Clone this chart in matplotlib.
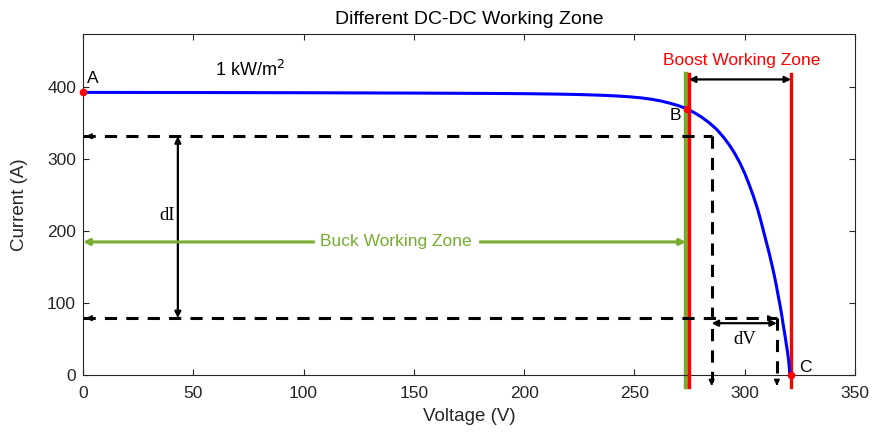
import matplotlib.pyplot as plt

plt.rcParams['font.family'] = ['Liberation Sans', 'DejaVu Sans']

# I-V curve
voltage = [0, 50, 100, 150, 180, 200, 215, 225, 235, 242, 248, 253, 258, 262, 266,
           270, 273.7, 277, 280.5, 284, 287.3, 290.3, 293, 295.5, 297.8, 300, 302,
           303.9, 305.7, 307.1, 308.4, 309.7, 311, 312.2, 313.3, 314.3, 315.2, 316.1,
           316.9, 317.6, 318.3, 318.9, 319.5, 320, 320.5]
current = [393, 392.8, 392.5, 392, 391.6, 391.2, 390.6, 390, 389, 388, 386.8, 385.4,
           383.3, 381, 378, 374.5, 370, 365, 358.5, 350.5, 341.5, 331, 320, 308, 295,
           280.5, 265, 249, 232, 217, 201.5, 186, 170.5, 155, 140, 125, 110, 95.5,
           81, 67, 54, 42, 30, 18, 0]

point_names = ['A', 'B', 'C']
point_v = [0, 273.7, 321]
point_i = [393, 370, 0]

buck_v = 273.4          # green line
boost_v = [274.7, 321]  # red lines
dI_levels = [332, 79]
dV_levels = [285, 314.6]

fig = plt.figure(figsize=(8.72, 4.32), dpi=100)
ax = fig.add_axes([0.0952, 0.132, 0.8853, 0.789])

# zone lines
ax.plot([buck_v, buck_v], [-17, 419], color='#77AC30', lw=3.2, clip_on=False, zorder=2)
for v in boost_v:
    ax.plot([v, v], [-17, 419], color='red', lw=2.4, clip_on=False, zorder=3)

ax.plot(voltage, current, color='blue', lw=2.2, zorder=4)
ax.plot(point_v, point_i, 'o', color='red', ms=4.5, clip_on=False, zorder=5)

# dashed guide lines
dash = dict(color='black', lw=2.2, dashes=(4, 3), zorder=3)
ax.plot([0, dV_levels[0]], [dI_levels[0], dI_levels[0]], **dash)
ax.plot([0, dV_levels[1]], [dI_levels[1], dI_levels[1]], **dash)
ax.plot([dV_levels[0], dV_levels[0]], [dI_levels[0], -10], clip_on=False, **dash)
ax.plot([dV_levels[1], dV_levels[1]], [dI_levels[1], -10], clip_on=False, **dash)

head = dict(arrowstyle='-|>', color='black', lw=1.2, mutation_scale=8)
for lvl in dI_levels:
    ax.annotate('', xy=(0, lvl), xytext=(4, lvl), arrowprops=head, annotation_clip=False)
ax.annotate('', xy=(dV_levels[1], dI_levels[1]), xytext=(dV_levels[1] - 4, dI_levels[1]),
            arrowprops=head)
for v in dV_levels:
    ax.annotate('', xy=(v, -15), xytext=(v, -8), arrowprops=head, annotation_clip=False)

# dI / dV arrows
dbl = dict(arrowstyle='<|-|>', color='black', lw=1.6, mutation_scale=9, shrinkA=0, shrinkB=0)
ax.annotate('', xy=(43, dI_levels[0]), xytext=(43, dI_levels[1]), arrowprops=dbl)
ax.annotate('', xy=(dV_levels[0], 72), xytext=(dV_levels[1], 72), arrowprops=dbl)
ax.text(38, 222, 'dI', family=['Liberation Serif'], fontsize=13.5, ha='center', va='center')
ax.text(300, 49, 'dV', family=['Liberation Serif'], fontsize=13.5, ha='center', va='center')

# buck zone
ax.annotate('', xy=(0, 185), xytext=(buck_v, 185),
            arrowprops=dict(arrowstyle='<|-|>', color='#77AC30', lw=2.2,
                            mutation_scale=9, shrinkA=0, shrinkB=0))
ax.text(142, 185, 'Buck Working Zone', color='#77AC30', fontsize=12.5,
        ha='center', va='center', backgroundcolor='white')

# boost zone
ax.annotate('', xy=(boost_v[0], 411), xytext=(boost_v[1], 411), arrowprops=dbl)
ax.text(298.7, 437.5, 'Boost Working Zone', color='red', fontsize=12.5,
        ha='center', va='center')

ax.text(75.7, 424, '1 kW/m$^2$', fontsize=13, ha='center', va='center')
ax.text(2, 412, 'A', fontsize=12.5, ha='left', va='center')
ax.text(271, 361, 'B', fontsize=12.5, ha='right', va='center')
ax.text(324.5, 11, 'C', fontsize=12.5, ha='left', va='center')

ax.set_xlim(0, 350)
ax.set_ylim(0, 474)
ax.set_xticks(range(0, 351, 50))
ax.set_yticks(range(0, 401, 100))
ax.tick_params(direction='in', top=True, right=True, labelsize=12.5, length=4,
               colors='#262626')
ax.tick_params(axis='x', pad=8)
ax.tick_params(axis='y', pad=5)
for s in ax.spines.values():
    s.set_color('#262626')
    s.set_linewidth(0.8)
ax.set_xlabel('Voltage (V)', fontsize=13.5, color='#262626', labelpad=5)
ax.set_ylabel('Current (A)', fontsize=13.5, color='#262626', labelpad=14)
ax.set_title('Different DC-DC Working Zone', fontsize=14, color='black', pad=7)

fig.savefig('out.png', dpi=100)
